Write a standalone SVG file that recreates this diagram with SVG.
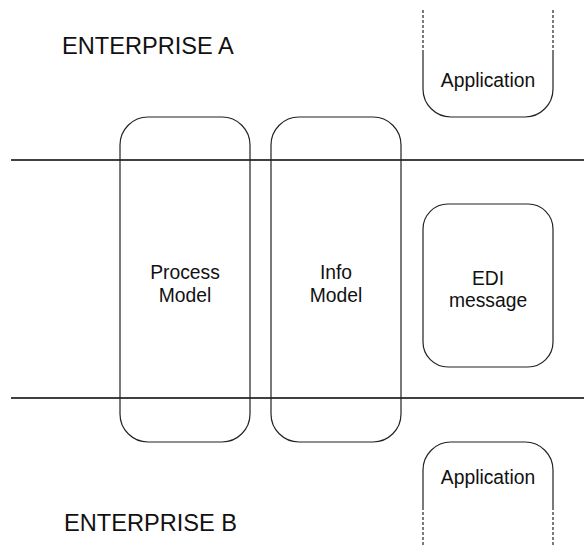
<svg xmlns="http://www.w3.org/2000/svg" width="584" height="546" viewBox="0 0 584 546">
<style>
.bx{fill:none;stroke:#222;stroke-width:1.2}
.ln{stroke:#000;stroke-width:1.4}
.ds{fill:none;stroke:#222;stroke-width:1.2;stroke-dasharray:3 2}
.t{font-family:"Liberation Sans",Arial,sans-serif;font-size:19.3px;fill:#111;text-anchor:middle}
.h{font-family:"Liberation Sans",Arial,sans-serif;font-size:23.6px;fill:#111}
</style>
<rect width="584" height="546" fill="#fff"/>
<g id="connectors">
<line class="ln" x1="11" y1="160" x2="584" y2="160"/>
<line class="ln" x1="11" y1="398" x2="584" y2="398"/>
</g>
<g id="enterprise-a"><text class="h" x="62" y="54">ENTERPRISE A</text></g>
<g id="enterprise-b"><text class="h" x="64" y="531">ENTERPRISE B</text></g>
<g id="process-model">
<rect class="bx" x="120" y="117" width="130" height="325" rx="28"/>
<text class="t" x="185" y="279">Process</text>
<text class="t" x="185" y="301.5">Model</text>
</g>
<g id="info-model">
<rect class="bx" x="271" y="117" width="130" height="325" rx="28"/>
<text class="t" x="336" y="279">Info</text>
<text class="t" x="336" y="301.5">Model</text>
</g>
<g id="edi-message">
<rect class="bx" x="423" y="204" width="130" height="163" rx="25"/>
<text class="t" x="488" y="285">EDI</text>
<text class="t" x="488" y="307">message</text>
</g>
<g id="application-a">
<path class="ds" d="M423,10V52M553,10V52"/>
<path class="bx" d="M423,52V89A28,28 0 0 0 451,117H525A28,28 0 0 0 553,89V52"/>
<text class="t" x="488" y="87">Application</text>
</g>
<g id="application-b">
<path class="bx" d="M423,507V470A28,28 0 0 1 451,442H525A28,28 0 0 1 553,470V507"/>
<path class="ds" d="M423,507V546M553,507V546"/>
<text class="t" x="488" y="484">Application</text>
</g>
</svg>
